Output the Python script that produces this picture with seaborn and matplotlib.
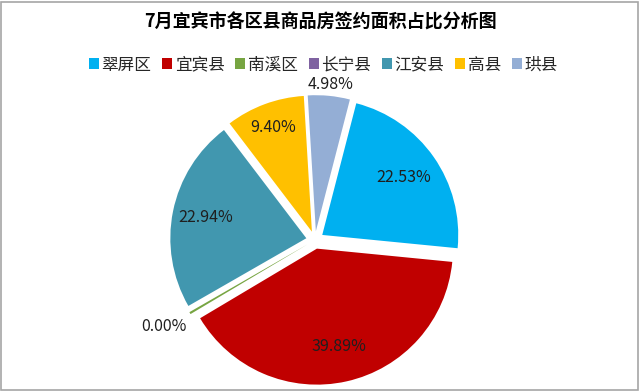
import numpy as np
import matplotlib
matplotlib.use("Agg")
import matplotlib.pyplot as plt
import seaborn as sns
from matplotlib.patches import Rectangle

# 数据
districts = ['翠屏区', '宜宾县', '南溪区', '长宁县', '江安县', '高县', '珙县']
shares = [22.53, 39.89, 0.26, 0.0, 22.94, 9.40, 4.98]
pct_labels = ['22.53%', '39.89%', '', '0.00%', '22.94%', '9.40%', '4.98%']
colors = ['#00B0F0', '#C00000', '#77A542', '#7F62A1', '#4197AF', '#FFC000', '#94AED5']

sns.set_theme(style='white')
plt.rcParams['font.family'] = ['Noto Sans CJK SC', 'DejaVu Sans']

fig = plt.figure(figsize=(6.4, 3.92), dpi=100)
ax = fig.add_axes([165 / 640, 2 / 392, 300 / 640, 300 / 392])

wedges, _ = ax.pie(shares, colors=colors, startangle=75.5, counterclock=False,
                   explode=[0.065] * len(shares), wedgeprops=dict(linewidth=0))
# 半径约 136 像素
ax.set_xlim(-150 / 136, 150 / 136)
ax.set_ylim(-150 / 136, 150 / 136)
ax.axis('off')

# 标签位置 (相对半径)
label_r = [0.80, 0.80, 0.0, 1.28, 0.82, 0.88, 1.15]
for w, txt, r in zip(wedges, pct_labels, label_r):
    if not txt:
        continue
    ang = np.deg2rad((w.theta1 + w.theta2) / 2)
    ax.text(r * np.cos(ang), r * np.sin(ang), txt, ha='center', va='center',
            fontsize=11.5, color='#1f1f1f')

fig.text(0.5, 1 - 22 / 392, '7月宜宾市各区县商品房签约面积占比分析图',
         ha='center', va='center', fontsize=13, fontweight='bold', color='#000000')

fig.legend(wedges, districts, loc='center', bbox_to_anchor=(0.505, 1 - 65 / 392),
           ncol=7, frameon=False, fontsize=12, handlelength=0.6, handleheight=0.6,
           handletextpad=0.15, columnspacing=0.65, borderaxespad=0)

fig.add_artist(Rectangle((0.002, 0.006), 0.995, 0.99, transform=fig.transFigure,
                         fill=False, edgecolor='#A6A6A6', linewidth=1.2))

fig.savefig('out.png', dpi=100)
